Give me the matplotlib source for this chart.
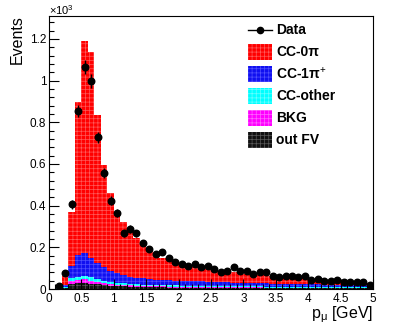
import numpy as np
import matplotlib
matplotlib.use("Agg")
import matplotlib.pyplot as plt
from matplotlib.patches import Rectangle
from matplotlib.lines import Line2D

plt.rcParams['font.family'] = ['Liberation Sans', 'DejaVu Sans']
plt.rcParams['mathtext.fontset'] = 'custom'
plt.rcParams['mathtext.rm'] = 'Liberation Sans'
plt.rcParams['mathtext.it'] = 'Liberation Sans:italic'
plt.rcParams['mathtext.bf'] = 'Liberation Sans:bold'
plt.rcParams['hatch.linewidth'] = 0.5

# binning: 50 bins from 0 to 5 GeV
bin_edges = np.round(np.arange(0, 5.01, 0.1), 2)

data = [0, 12, 75, 406, 854, 1064, 998, 728, 555, 424,
        363, 267, 288, 267, 219, 192, 166, 176, 147, 131,
        122, 110, 122, 106, 110, 94, 80, 88, 107, 88,
        88, 70, 82, 80, 64, 56, 64, 64, 59, 61,
        42, 46, 40, 37, 45, 34, 35, 32, 35, 21]

out_fv = [0, 1, 4, 25, 30, 30, 26, 22, 18, 16,
          14, 12, 11, 10, 9, 9, 8, 8, 7, 7,
          7, 6, 6, 6, 6, 6, 5, 5, 5, 5,
          5, 5, 5, 4, 4, 4, 4, 4, 4, 4,
          4, 4, 4, 3, 3, 3, 3, 3, 3, 3]
bkg = [0, 1, 3, 13, 15, 16, 14, 12, 10, 8,
       7, 6, 6, 5, 5, 4, 4, 4, 4, 4,
       3, 3, 3, 3, 3, 3, 3, 3, 3, 3,
       3, 3, 3, 3, 3, 3, 2, 2, 2, 2,
       2, 2, 2, 2, 2, 2, 2, 2, 2, 2]
cc_other = [0, 1, 3, 13, 14, 16, 16, 12, 12, 10,
            9, 9, 8, 8, 7, 7, 7, 6, 6, 6,
            6, 6, 6, 5, 5, 5, 5, 5, 5, 5,
            5, 5, 4, 4, 4, 4, 4, 4, 4, 4,
            4, 4, 4, 4, 4, 4, 4, 4, 4, 4]
cc_1pi = [0, 2, 10, 59, 104, 109, 91, 77, 64, 54,
          45, 40, 34, 31, 30, 28, 26, 25, 25, 23,
          23, 23, 22, 22, 21, 20, 20, 19, 18, 17,
          16, 15, 16, 16, 15, 15, 15, 14, 14, 13,
          12, 12, 11, 12, 11, 11, 11, 10, 10, 10]
cc_0pi = [0, 5, 42, 258, 733, 1021, 989, 712, 491, 371,
          296, 256, 227, 189, 165, 139, 121, 107, 97, 88,
          81, 75, 70, 66, 62, 58, 55, 52, 49, 47,
          45, 43, 40, 38, 36, 34, 32, 31, 29, 28,
          16, 14, 14, 13, 13, 12, 11, 11, 10, 9]

components = [
    ("out FV", out_fv, "#111111", "#5a5a5a"),
    ("BKG", bkg, "#ff00ff", "#ff66ff"),
    ("CC-other", cc_other, "#00ffff", "#66ffff"),
    ("CC-1\u03c0$^{+}$", cc_1pi, "#1010f0", "#5050ff"),
    ("CC-0\u03c0", cc_0pi, "#ff0000", "#ff5a5a"),
]

W, H = 415, 329
fig = plt.figure(figsize=(W / 100, H / 100), dpi=100)
ax = fig.add_axes([49 / W, 1 - 289 / H, (373 - 49) / W, (289 - 16) / H])

left = bin_edges[:-1]
width = np.diff(bin_edges)
bottom = np.zeros(len(left))
for name, vals, fc, hc in components:
    v = np.array(vals, dtype=float) / 1000.0
    ax.bar(left, v, width=width, bottom=bottom, align='edge', color=fc,
           edgecolor=hc, linewidth=0, hatch='++++')
    bottom = bottom + v

centers = 0.5 * (bin_edges[:-1] + bin_edges[1:])
d = np.array(data, dtype=float)
mask = d > 0
ax.errorbar(centers[mask], d[mask] / 1000.0, yerr=np.sqrt(d[mask]) / 1000.0,
            fmt='o', color='black', ms=4.7, elinewidth=1, capsize=0, zorder=5)

ax.set_xlim(0, 5)
ax.set_ylim(0, 1.31)
ax.set_xticks(np.arange(0, 5.01, 0.5))
ax.set_xticks(np.arange(0, 5.01, 0.1), minor=True)
ax.set_xticklabels(['0', '0.5', '1', '1.5', '2', '2.5', '3', '3.5', '4', '4.5', '5'])
ax.set_yticks(np.arange(0, 1.21, 0.2))
ax.set_yticks(np.arange(0, 1.30, 0.04), minor=True)
ax.set_yticklabels(['0', '0.2', '0.4', '0.6', '0.8', '1', '1.2'])
ax.tick_params(which='both', direction='in', top=False, right=False,
               labelsize=8.5, width=0.8, color='black')
ax.tick_params(which='major', length=7)
ax.tick_params(which='minor', length=3.5)
ax.tick_params(axis='x', pad=3)
ax.tick_params(axis='y', pad=2)
for s in ax.spines.values():
    s.set_linewidth(0.8)

fig.text(17 / W, 1 - 15 / H, 'Events', rotation=90, ha='center', va='top', fontsize=11.5)
fig.text(373 / W, 1 - 318 / H, 'p$_{\\mathrm{\u03bc}}$ [GeV]', ha='right', va='baseline', fontsize=11.5)
fig.text(49 / W, 1 - 15 / H, r'$\times$10$^{3}$', ha='left', va='baseline', fontsize=8)

# legend (manual, ROOT style)
entries = [("Data", None, None)] + [(c[0], c[2], c[3]) for c in reversed(components)]
for i, (name, fc, hc) in enumerate(entries):
    yc = 30 + 22 * i
    if fc is None:
        fig.add_artist(Line2D([248 / W, 272 / W], [1 - yc / H, 1 - yc / H],
                              color='black', lw=1, transform=fig.transFigure))
        fig.add_artist(Line2D([260 / W], [1 - yc / H], marker='o', ms=4.5,
                              color='black', transform=fig.transFigure))
    else:
        fig.add_artist(Rectangle((248 / W, 1 - (yc + 8) / H), 24 / W, 16 / H,
                                 facecolor=fc, edgecolor=hc, linewidth=0,
                                 hatch='++++', transform=fig.transFigure))
    fig.text(276 / W, 1 - yc / H, name, ha='left', va='center',
             fontsize=10, fontweight='bold')

fig.savefig('out.png', dpi=100)
